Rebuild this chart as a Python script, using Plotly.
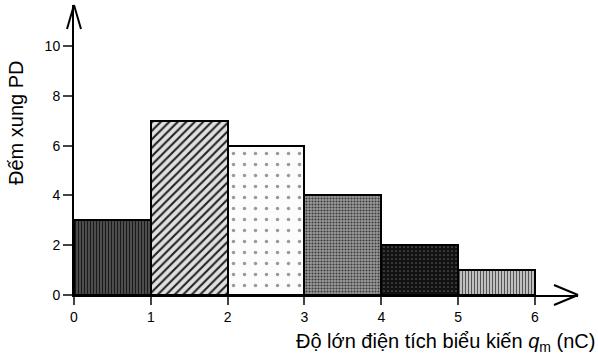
import plotly.graph_objects as go

# Data
bin_left = [0, 1, 2, 3, 4, 5]
bin_width = [1, 1, 1, 1, 1, 1]
counts = [3, 7, 6, 4, 2, 1]
x_ticks = [0, 1, 2, 3, 4, 5, 6]
y_ticks = [0, 2, 4, 6, 8, 10]

pat_shape = ["|", "/", ".", ".", ".", "|"]
pat_bg = ["#5e5e5e", "#e0e0e0", "#fcfcfc", "#9c9c9c", "#121212", "#cccccc"]
pat_fg = ["#1a1a1a", "#222222", "#9a9a9a", "#3a3a3a", "#5a5a5a", "#555555"]
pat_size = [3, 6, 11, 3, 4, 3]
pat_sol = [0.5, 0.35, 0.08, 0.4, 0.15, 0.4]

centers = [l + w / 2 for l, w in zip(bin_left, bin_width)]

FONT = "Liberation Sans, Arial, sans-serif"
ML, MR, MT, MB = 74, 20, 5, 63
W, H = 598, 358
PW, PH = W - ML - MR, H - MT - MB
XMAX = 6.56
YMAX = 11.65


def px2paper_x(px):
    return (px - ML) / PW


def px2paper_y(py):
    return (H - MB - py) / PH


fig = go.Figure()
for i in range(len(counts)):
    fig.add_trace(go.Bar(
        x=[centers[i]], y=[counts[i]], width=[bin_width[i]],
        marker=dict(
            color=pat_bg[i],
            line=dict(color="black", width=2),
            pattern=dict(shape=pat_shape[i], fgcolor=pat_fg[i],
                         size=pat_size[i], solidity=pat_sol[i],
                         fillmode="overlay", fgopacity=1),
        ),
        showlegend=False, hoverinfo="x+y",
    ))


def seg(x0, y0, x1, y1):
    fig.add_shape(type="line", xref="paper", yref="paper",
                  x0=px2paper_x(x0), y0=px2paper_y(y0),
                  x1=px2paper_x(x1), y1=px2paper_y(y1),
                  line=dict(color="black", width=2))


# y-axis arrow head (tip at top of axis)
seg(ML, MT, ML - 7, MT + 24)
seg(ML, MT, ML + 7, MT + 24)
# x-axis arrow head (tip at right end of axis)
seg(W - MR, H - MB, W - MR - 24, H - MB - 10)
seg(W - MR, H - MB, W - MR - 24, H - MB + 10)

fig.add_annotation(text="Đếm xung PD", textangle=-90, showarrow=False,
                   xref="paper", x=px2paper_x(16), xanchor="center",
                   yref="paper", y=px2paper_y(123), yanchor="middle",
                   font=dict(family=FONT, size=20, color="black"))
fig.add_annotation(text="Độ lớn điện tích biểu kiến <i>q</i><sub>m</sub> (nC)",
                   showarrow=False,
                   xref="paper", x=px2paper_x(597), xanchor="right",
                   yref="paper", y=px2paper_y(342), yanchor="middle",
                   font=dict(family=FONT, size=20, color="black"))

fig.update_layout(
    width=W, height=H, margin=dict(l=ML, r=MR, t=MT, b=MB),
    plot_bgcolor="white", paper_bgcolor="white", bargap=0, barmode="overlay",
    font=dict(family=FONT, size=14, color="black"),
    xaxis=dict(range=[0, XMAX], tickvals=x_ticks, ticks="outside", ticklen=8,
               tickwidth=2, showline=True, linecolor="black", linewidth=2,
               showgrid=False, zeroline=False, fixedrange=True,
               tickfont=dict(family=FONT, size=14)),
    yaxis=dict(range=[0, YMAX], tickvals=y_ticks, ticks="outside", ticklen=9,
               tickwidth=2, showline=True, linecolor="black", linewidth=2,
               showgrid=False, zeroline=False, fixedrange=True,
               tickfont=dict(family=FONT, size=14)),
)

fig.write_html("out.html")
